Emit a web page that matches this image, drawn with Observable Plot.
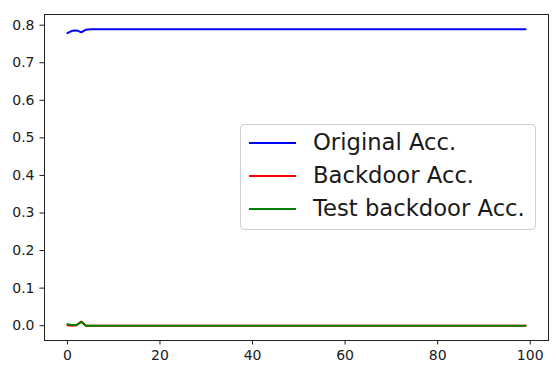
<!DOCTYPE html>
<html>
<head>
<meta charset="utf-8">
<script src="https://cdn.jsdelivr.net/npm/d3@7"></script>
<script src="https://cdn.jsdelivr.net/npm/@observablehq/plot@0.6"></script>
<style>
  html, body { margin: 0; padding: 0; background: #fff; }
  #wrap { position: relative; width: 557px; height: 365px; font-family: "DejaVu Sans", sans-serif; }
  #legend {
    position: absolute; left: 240px; top: 124px; width: 296px; height: 106px;
    border: 1px solid #d0d0d0; border-radius: 4px; background: rgba(255,255,255,0.8);
    box-sizing: border-box;
  }
  .item { position: absolute; left: 0; height: 0; }
  .item svg { position: absolute; left: 7px; top: -2px; }
  .item span { position: absolute; left: 72px; top: -15px; font-size: 22.7px; color: #1a1a1a; white-space: nowrap; line-height: 28px; }
</style>
</head>
<body>
<div id="wrap"></div>
<script>
// Accuracy per epoch, 100 epochs
const originalAcc = [
  0.779, 0.785, 0.786, 0.781, 0.788, 0.789, 0.789, 0.789, 0.789, 0.789,
  0.789, 0.789, 0.789, 0.789, 0.789, 0.789, 0.789, 0.789, 0.789, 0.789,
  0.789, 0.789, 0.789, 0.789, 0.789, 0.789, 0.789, 0.789, 0.789, 0.789,
  0.789, 0.789, 0.789, 0.789, 0.789, 0.789, 0.789, 0.789, 0.789, 0.789,
  0.789, 0.789, 0.789, 0.789, 0.789, 0.789, 0.789, 0.789, 0.789, 0.789,
  0.789, 0.789, 0.789, 0.789, 0.789, 0.789, 0.789, 0.789, 0.789, 0.789,
  0.789, 0.789, 0.789, 0.789, 0.789, 0.789, 0.789, 0.789, 0.789, 0.789,
  0.789, 0.789, 0.789, 0.789, 0.789, 0.789, 0.789, 0.789, 0.789, 0.789,
  0.789, 0.789, 0.789, 0.789, 0.789, 0.789, 0.789, 0.789, 0.789, 0.789,
  0.789, 0.789, 0.789, 0.789, 0.789, 0.789, 0.789, 0.789, 0.789, 0.789
];
const backdoorAcc = [
  0.001, 0.000, 0.001, 0.011, 0.000, 0.000, 0.000, 0.000, 0.000, 0.000,
  0.000, 0.000, 0.000, 0.000, 0.000, 0.000, 0.000, 0.000, 0.000, 0.000,
  0.000, 0.000, 0.000, 0.000, 0.000, 0.000, 0.000, 0.000, 0.000, 0.000,
  0.000, 0.000, 0.000, 0.000, 0.000, 0.000, 0.000, 0.000, 0.000, 0.000,
  0.000, 0.000, 0.000, 0.000, 0.000, 0.000, 0.000, 0.000, 0.000, 0.000,
  0.000, 0.000, 0.000, 0.000, 0.000, 0.000, 0.000, 0.000, 0.000, 0.000,
  0.000, 0.000, 0.000, 0.000, 0.000, 0.000, 0.000, 0.000, 0.000, 0.000,
  0.000, 0.000, 0.000, 0.000, 0.000, 0.000, 0.000, 0.000, 0.000, 0.000,
  0.000, 0.000, 0.000, 0.000, 0.000, 0.000, 0.000, 0.000, 0.000, 0.000,
  0.000, 0.000, 0.000, 0.000, 0.000, 0.000, 0.000, 0.000, 0.000, 0.000
];
const testBackdoorAcc = [
  0.004, 0.002, 0.002, 0.010, 0.000, 0.000, 0.000, 0.000, 0.000, 0.000,
  0.000, 0.000, 0.000, 0.000, 0.000, 0.000, 0.000, 0.000, 0.000, 0.000,
  0.000, 0.000, 0.000, 0.000, 0.000, 0.000, 0.000, 0.000, 0.000, 0.000,
  0.000, 0.000, 0.000, 0.000, 0.000, 0.000, 0.000, 0.000, 0.000, 0.000,
  0.000, 0.000, 0.000, 0.000, 0.000, 0.000, 0.000, 0.000, 0.000, 0.000,
  0.000, 0.000, 0.000, 0.000, 0.000, 0.000, 0.000, 0.000, 0.000, 0.000,
  0.000, 0.000, 0.000, 0.000, 0.000, 0.000, 0.000, 0.000, 0.000, 0.000,
  0.000, 0.000, 0.000, 0.000, 0.000, 0.000, 0.000, 0.000, 0.000, 0.000,
  0.000, 0.000, 0.000, 0.000, 0.000, 0.000, 0.000, 0.000, 0.000, 0.000,
  0.000, 0.000, 0.000, 0.000, 0.000, 0.000, 0.000, 0.000, 0.000, 0.000
];
const seriesNames = ["Original Acc.", "Backdoor Acc.", "Test backdoor Acc."];
const seriesColors = ["#0000ff", "#ff0000", "#008000"];
const xTicks = [0, 20, 40, 60, 80, 100];
const yTicks = [0.0, 0.1, 0.2, 0.3, 0.4, 0.5, 0.6, 0.7, 0.8];

const allSeries = [originalAcc, backdoorAcc, testBackdoorAcc];
const rows = allSeries.flatMap((vals, s) =>
  vals.map((v, i) => ({ epoch: i, acc: v, series: seriesNames[s] })));

const n = originalAcc.length;
const xPad = (n - 1) * 0.05;
const yMin = 0, yMax = d3.max(originalAcc);
const yPad = (yMax - yMin) * 0.05;

const chart = Plot.plot({
  width: 557,
  height: 365,
  marginLeft: 44,
  marginRight: 9,
  marginTop: 14,
  marginBottom: 25,
  style: { fontFamily: "DejaVu Sans, sans-serif", fontSize: "14px", color: "#1a1a1a", background: "#fff" },
  x: { domain: [-xPad, n - 1 + xPad], ticks: xTicks, tickSize: 4.5, tickPadding: 5, label: null, tickFormat: d3.format("d") },
  y: { domain: [yMin - yPad, yMax + yPad], ticks: yTicks, tickSize: 4.5, tickPadding: 5.5, label: null, tickFormat: d3.format(".1f") },
  color: { domain: seriesNames, range: seriesColors },
  marks: [
    Plot.line(rows, { x: "epoch", y: "acc", z: "series", stroke: "series", strokeWidth: 2 }),
    Plot.frame({ stroke: "#222", strokeWidth: 1 })
  ]
});

const wrap = document.getElementById("wrap");
wrap.appendChild(chart);

// Legend box inside the axes
const legend = document.createElement("div");
legend.id = "legend";
const rowTops = [18, 51, 84];
seriesNames.forEach((name, i) => {
  const item = document.createElement("div");
  item.className = "item";
  item.style.top = rowTops[i] + "px";
  item.innerHTML = `<svg width="50" height="4"><line x1="1" x2="48" y1="2" y2="2" stroke="${seriesColors[i]}" stroke-width="2"/></svg><span>${name}</span>`;
  legend.appendChild(item);
});
wrap.appendChild(legend);
</script>
</body>
</html>
